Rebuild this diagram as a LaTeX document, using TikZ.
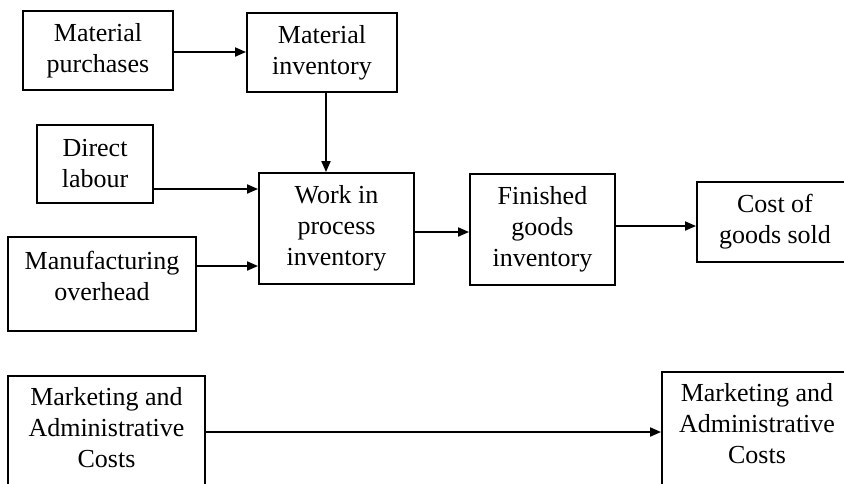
\documentclass[tikz,border=0pt]{standalone}
\usepackage{fontspec}
\setmainfont{Liberation Serif}
\usetikzlibrary{arrows.meta,calc}
\begin{document}
\begin{tikzpicture}[x=1pt,y=-1pt,
  box/.style={draw, line width=1.9pt, inner sep=0pt, align=center, font=\fontsize{26}{31}\selectfont},
  plainbox/.style={draw, line width=1.9pt, inner sep=0pt},
  lbl/.style={inner sep=0pt, align=center, font=\fontsize{26}{31}\selectfont},
  arr/.style={line width=1.9pt, -{Triangle[length=11pt,width=9pt]}}]
\useasboundingbox (0,0) rectangle (844,483);
\clip (0,0) rectangle (844,483);
\node[box, minimum width=150pt, minimum height=79pt] (MP) at (98,50.5) {Material\\purchases};
\node[box, minimum width=150pt, minimum height=79pt] (MI) at (322,52.5) {Material\\inventory};
\node[box, minimum width=116pt, minimum height=78pt] (DL) at (95,164) {Direct\\labour};
\node[box, minimum width=155pt, minimum height=111pt] (WIP) at (336.5,228.5) {Work in\\process\\inventory};
\node[plainbox, minimum width=188pt, minimum height=94pt] (MO) at (102,284) {};
\node[lbl] (MOt) at (102,276) {Manufacturing\\overhead};
\node[box, minimum width=145pt, minimum height=111pt] (FG) at (542.5,229.5) {Finished\\goods\\inventory};
\node[plainbox, minimum width=156pt, minimum height=80pt] (CG) at (775,222) {};
\node[lbl] (CGt) at (775,222) {Cost of\\goods sold};
\node[plainbox, minimum width=197pt, minimum height=114pt] (ML) at (106.5,433) {};
\node[lbl] (MLt) at (106.5,428) {Marketing and\\Administrative\\Costs};
\node[plainbox, minimum width=190pt, minimum height=120pt] (MR) at (757,432) {};
\node[lbl] (MRt) at (757,424) {Marketing and\\Administrative\\Costs};
\draw[arr] (MP.east |- 0,52) -- (MI.west |- 0,52);
\draw[arr] (MI.south -| 326,0) -- (WIP.north -| 326,0);
\draw[arr] (DL.east |- 0,189) -- (WIP.west |- 0,189);
\draw[arr] (MO.east |- 0,266) -- (WIP.west |- 0,266);
\draw[arr] (WIP.east |- 0,232) -- (FG.west |- 0,232);
\draw[arr] (FG.east |- 0,226) -- (CG.west |- 0,226);
\draw[arr] (ML.east |- 0,432) -- (MR.west |- 0,432);
\end{tikzpicture}
\end{document}
